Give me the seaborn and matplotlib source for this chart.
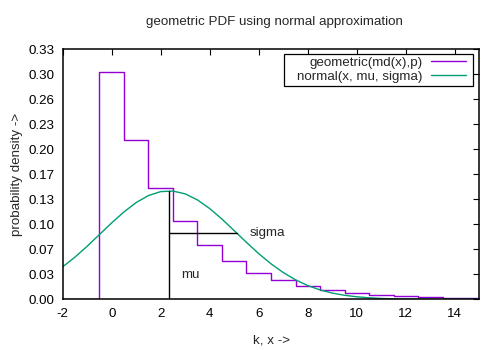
import matplotlib
matplotlib.use("Agg")
import matplotlib.pyplot as plt
from matplotlib.patches import Rectangle
import seaborn as sns
import pandas as pd
import numpy as np

# geometric pmf (k = -2 .. 15)
k_values = [-2, -1, 0, 1, 2, 3, 4, 5, 6, 7, 8, 9, 10, 11, 12, 13, 14, 15]
geom_values = [0.0, 0.0, 0.300, 0.210, 0.147, 0.103, 0.072, 0.050, 0.035,
               0.025, 0.017, 0.012, 0.0083, 0.0058, 0.0040, 0.0028, 0.0020, 0.0013]

# normal approximation curve
x_normal = [-2.0, -1.5, -1.0, -0.5, 0.0, 0.5, 1.0, 1.5, 2.0, 2.5, 3.0, 3.5, 4.0,
            4.5, 5.0, 5.5, 6.0, 6.5, 7.0, 7.5, 8.0, 8.5, 9.0, 9.5, 10.0, 10.5,
            11.0, 11.5, 12.0, 12.5, 13.0, 13.5, 14.0, 14.5, 15.0]
y_normal = [0.0428, 0.0556, 0.0700, 0.0854, 0.1008, 0.1152, 0.1276, 0.1368,
            0.1420, 0.1427, 0.1390, 0.1310, 0.1196, 0.1057, 0.0905, 0.0750,
            0.0602, 0.0468, 0.0353, 0.0257, 0.0181, 0.0124, 0.0082, 0.0053,
            0.0033, 0.0020, 0.0011, 0.0006, 0.0003, 0.0002, 0.0001, 0.0,
            0.0, 0.0, 0.0]

mu = 2.33
sigma = 2.79
mu_height = 0.143
sigma_height = 0.087

y_ticks = [0.0, 0.033, 0.066, 0.099, 0.132, 0.165, 0.198, 0.231, 0.264, 0.297, 0.33]
y_tick_labels = ["0.00", "0.03", "0.07", "0.10", "0.13", "0.17", "0.20", "0.23",
                 "0.26", "0.30", "0.33"]
x_ticks = [-2, 0, 2, 4, 6, 8, 10, 12, 14]

sns.set_style("white")
plt.rcParams['font.family'] = ['Liberation Sans', 'DejaVu Sans']
FS = 9.6

fig = plt.figure(figsize=(5, 3.5), dpi=100)
ax = fig.add_axes([62.7/500, 1-299.3/350, (479.3-62.7)/500, (299.3-49)/350])

df_geom = pd.DataFrame({"k": k_values, "p": geom_values})
df_norm = pd.DataFrame({"x": x_normal, "y": y_normal})

sns.lineplot(data=df_geom, x="k", y="p", ax=ax, color="#9400D3", lw=1.0,
             drawstyle="steps-mid", label="geometric(md(x),p)", estimator=None)
sns.lineplot(data=df_norm, x="x", y="y", ax=ax, color="#009E73", lw=1.0,
             label="normal(x, mu, sigma)", estimator=None)

ax.plot([mu, mu], [0, mu_height], color="black", lw=1.0)
ax.plot([mu, mu + sigma], [sigma_height, sigma_height], color="black", lw=1.0)
ax.text(mu + sigma + 0.5, sigma_height, "sigma", fontsize=FS, ha="left", va="center")
ax.text(mu + 0.5, 0.032, "mu", fontsize=FS, ha="left", va="center")

ax.set_xlim(-2, 15)
ax.set_ylim(0, 0.33)
ax.set_xticks(x_ticks)
ax.set_xticklabels([str(t) for t in x_ticks])
ax.set_yticks(y_ticks)
ax.set_yticklabels(y_tick_labels)
ax.tick_params(direction="in", top=True, right=True, length=4.5, width=0.8,
               labelsize=FS, pad=6, colors="black")
for s in ax.spines.values():
    s.set_color("black")
    s.set_linewidth(1.1)
    s.set_zorder(5)

ax.set_xlabel("k, x ->", fontsize=FS, labelpad=11)
ax.set_ylabel("probability density ->", fontsize=FS, labelpad=4)
fig.text(0.549, 1-22/350, "geometric PDF using normal approximation",
         fontsize=FS, ha="center", va="center")

# legend frame (gnuplot-style key box)
x0 = (284 - 62.7) / 416.6
x1 = (473.3 - 62.7) / 416.6
y0 = 1 - (85.7 - 49) / 250.3
y1 = 1 - (54.3 - 49) / 250.3
ax.add_patch(Rectangle((x0, y0), x1 - x0, y1 - y0, transform=ax.transAxes,
                       fill=True, facecolor="white", edgecolor="black",
                       lw=0.9, zorder=6))

leg = ax.legend(loc="upper right",
                bbox_to_anchor=((466 - 62.7) / 416.6, 1 - (56.5 - 49) / 250.3),
                borderaxespad=0, markerfirst=False, fontsize=FS,
                handlelength=2.65, handletextpad=0.6, labelspacing=0.12,
                frameon=False, borderpad=0)
leg.set_zorder(7)

fig.savefig("out.png", dpi=100)
